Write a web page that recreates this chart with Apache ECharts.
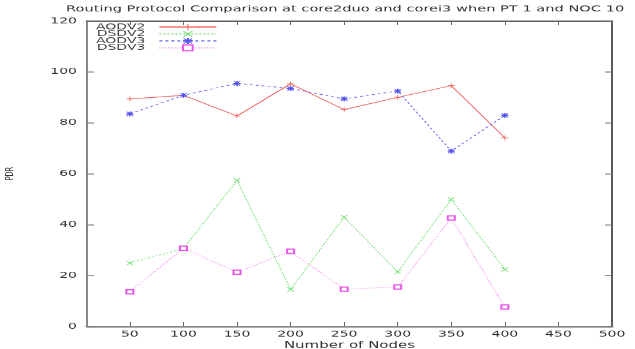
<!DOCTYPE html>
<html>
<head>
<meta charset="utf-8">
<script src="https://cdn.jsdelivr.net/npm/echarts@6/dist/echarts.min.js"></script>
<style>
html,body{margin:0;padding:0;background:#fff;overflow:hidden;}
#wrap{width:635px;height:349px;overflow:hidden;}
#chart{width:635px;height:582px;transform:scaleY(0.6);transform-origin:0 0;}
</style>
</head>
<body>
<div id="wrap"><div id="chart"></div></div>
<script>
var titleText = 'Routing Protocol Comparison at core2duo and corei3 when PT 1 and NOC 10';
var xName = 'Number of Nodes';
var yName = 'PDR';
var nodes = [50, 100, 150, 200, 250, 300, 350, 400];
var xTicks = [50, 100, 150, 200, 250, 300, 350, 400, 450, 500];
var seriesNames = ['AODV2', 'DSDV2', 'AODV3', 'DSDV3'];
var aodv2 = [89.4, 90.8, 82.7, 95.3, 85.2, 90.0, 94.6, 74.1];
var dsdv2 = [24.9, 30.6, 57.4, 14.5, 42.9, 21.4, 49.9, 22.4];
var aodv3 = [83.5, 90.8, 95.5, 93.5, 89.4, 92.5, 68.9, 82.9];
var dsdv3 = [13.6, 30.7, 21.3, 29.5, 14.6, 15.5, 42.6, 7.6];

function pairs(vals){ return nodes.map(function(n,i){ return [n, vals[i]]; }); }

var FONT = 'DejaVu Sans';
var plusPath = 'path://M0,4.4H10V5.6H0Z M4.4,0H5.6V10H4.4Z';
var crossPath = 'path://M0,0.8L0.8,0L10,9.2L9.2,10Z M9.2,0L10,0.8L0.8,10L0,9.2Z';
var starPath = 'path://M0,3.8H10V6.2H0Z M3.8,0H6.2V10H3.8Z M0,1L1,0L10,9L9,10Z M9,0L10,1L1,10L0,9Z';

var chart = echarts.init(document.getElementById('chart'), null, {renderer:'canvas'});
chart.setOption({
  animation: false,
  backgroundColor: '#fff',
  title: {
    text: titleText, left: 61, top: 3,
    textStyle: {fontFamily: FONT, fontSize: 14.6, fontWeight: 'normal', color: '#333'}
  },
  legend: {
    orient: 'vertical', left: 96, top: 38, align: 'right', padding: 0,
    itemWidth: 57, itemHeight: 12, itemGap: -2.4,
    textStyle: {fontFamily: FONT, fontSize: 14, lineHeight: 12, color: '#444', padding: [0, 9, 0, 0]},
    data: seriesNames
  },
  grid: {left: 87, right: 23, top: 35, bottom: 38, show: false, containLabel: false, outerBoundsMode: 'none'},
  xAxis: [{
    type: 'value', min: 10, max: 500, position: 'bottom',
    name: xName, nameLocation: 'middle', nameGap: 22,
    nameTextStyle: {fontFamily: FONT, fontSize: 15, color: '#333'},
    axisLine: {show: true, lineStyle: {color: '#888', width: 3}},
    axisTick: {show: true, inside: true, length: 7, customValues: xTicks, lineStyle: {color: '#666', width: 1}},
    axisLabel: {customValues: xTicks, fontFamily: FONT, fontSize: 14, color: '#333', margin: 6},
    splitLine: {show: false}
  }, {
    type: 'value', min: 10, max: 500, position: 'top',
    axisLine: {show: true, onZero: false, lineStyle: {color: '#555', width: 2.5}},
    axisTick: {show: true, inside: true, length: 7, customValues: xTicks, lineStyle: {color: '#666', width: 1}},
    axisLabel: {show: false},
    splitLine: {show: false}
  }],
  yAxis: [{
    type: 'value', min: 0, max: 120, interval: 20, position: 'left',
    name: yName, nameLocation: 'middle', nameGap: 71, nameRotate: 90,
    nameTextStyle: {fontFamily: FONT, fontSize: 11, color: '#333'},
    axisLine: {show: true, lineStyle: {color: '#888', width: 2}},
    axisTick: {show: true, inside: true, length: 7, lineStyle: {color: '#777', width: 1.5}},
    axisLabel: {fontFamily: FONT, fontSize: 14, color: '#333', margin: 10},
    splitLine: {show: false}
  }, {
    type: 'value', min: 0, max: 120, interval: 20, position: 'right',
    axisLine: {show: true, onZero: false, lineStyle: {color: '#222', width: 1.5}},
    axisTick: {show: true, inside: true, length: 7, lineStyle: {color: '#777', width: 1.5}},
    axisLabel: {show: false},
    splitLine: {show: false}
  }],
  series: [{
    name: seriesNames[0], type: 'line', data: pairs(aodv2),
    symbol: plusPath, symbolSize: [7, 8],
    itemStyle: {color: '#f06060'},
    lineStyle: {color: '#f06060', width: 1.2, type: 'solid'}
  }, {
    name: seriesNames[1], type: 'line', data: pairs(dsdv2),
    symbol: crossPath, symbolSize: [7, 8],
    itemStyle: {color: '#55dd55'},
    lineStyle: {color: '#70e070', width: 1.2, type: [2, 2]}
  }, {
    name: seriesNames[2], type: 'line', data: pairs(aodv3),
    symbol: starPath, symbolSize: [7, 8],
    itemStyle: {color: '#5555ee'},
    lineStyle: {color: '#6666ee', width: 1.2, type: [3, 3]}
  }, {
    name: seriesNames[3], type: 'line', data: pairs(dsdv3),
    symbol: 'emptyRect', symbolSize: [7, 7],
    itemStyle: {color: '#e855e8', borderColor: '#e855e8', borderWidth: 1.2},
    lineStyle: {color: '#f070f0', width: 1.2, type: [1, 2]}
  }]
});
</script>
</body>
</html>
